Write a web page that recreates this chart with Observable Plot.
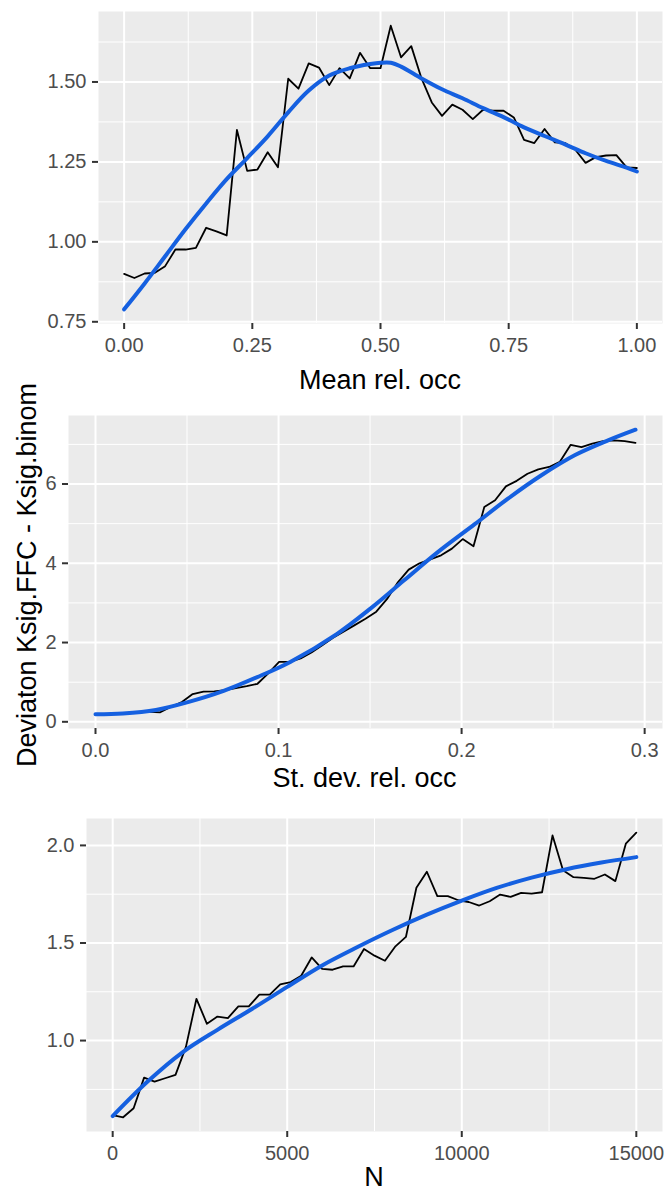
<!DOCTYPE html>
<html><head><meta charset="utf-8">
<script src="https://cdn.jsdelivr.net/npm/d3@7"></script>
<script src="https://cdn.jsdelivr.net/npm/@observablehq/plot@0.6"></script>
<style>
body{margin:0;background:#fff;}
#wrap{position:relative;width:667px;height:1193px;font-family:"Liberation Sans",Arial,sans-serif;overflow:hidden;}
.panel{position:absolute;left:0;}
.title{position:absolute;font-size:27px;color:#000;white-space:nowrap;line-height:1;}
</style></head><body><div id="wrap"></div>
<script>
// ---------- Panel 1: Mean rel. occ ----------
const meanX = [0,0.02,0.04,0.06,0.08,0.10,0.12,0.14,0.16,0.18,0.20,0.22,0.24,0.26,0.28,0.30,0.32,0.34,0.36,0.38,0.40,0.42,0.44,0.46,0.48,0.50,0.52,0.54,0.56,0.58,0.60,0.62,0.64,0.66,0.68,0.70,0.72,0.74,0.76,0.78,0.80,0.82,0.84,0.86,0.88,0.90,0.92,0.94,0.96,0.98,1.00];
const meanY = [0.900,0.887,0.901,0.903,0.924,0.976,0.976,0.981,1.044,1.033,1.020,1.350,1.222,1.226,1.280,1.233,1.510,1.479,1.558,1.545,1.490,1.543,1.511,1.591,1.543,1.543,1.676,1.577,1.612,1.511,1.436,1.394,1.429,1.413,1.384,1.413,1.410,1.410,1.389,1.319,1.309,1.353,1.311,1.309,1.288,1.247,1.265,1.270,1.271,1.233,1.231];
const meanSmoothX = [0,0.04,0.08,0.12,0.16,0.20,0.24,0.28,0.32,0.36,0.40,0.44,0.48,0.50,0.52,0.54,0.58,0.62,0.66,0.70,0.74,0.78,0.82,0.86,0.90,0.94,0.98,1.00];
const meanSmoothY = [0.789,0.870,0.955,1.040,1.120,1.196,1.262,1.330,1.405,1.473,1.520,1.543,1.556,1.560,1.560,1.548,1.511,1.477,1.449,1.418,1.390,1.358,1.331,1.305,1.277,1.253,1.232,1.220];
const meanXTicks = [0,0.25,0.5,0.75,1];
const meanXMinor = [0.125,0.375,0.625,0.875];
const meanYTicks = [0.75,1.00,1.25,1.50];
const meanYMinor = [0.875,1.125,1.375,1.625];

// ---------- Panel 2: St. dev. rel. occ ----------
const sdX = [0,0.0059,0.0118,0.0177,0.0236,0.0295,0.0354,0.0413,0.0472,0.0531,0.0590,0.0649,0.0708,0.0767,0.0826,0.0885,0.0944,0.1003,0.1062,0.1121,0.1180,0.1239,0.1298,0.1357,0.1416,0.1475,0.1534,0.1593,0.1652,0.1711,0.1770,0.1829,0.1888,0.1947,0.2006,0.2065,0.2124,0.2183,0.2242,0.2301,0.2360,0.2419,0.2478,0.2537,0.2596,0.2655,0.2714,0.2773,0.2832,0.2891,0.2950];
const sdY = [0.19,0.19,0.20,0.22,0.25,0.25,0.24,0.38,0.50,0.70,0.76,0.77,0.80,0.85,0.90,0.96,1.22,1.51,1.51,1.60,1.75,1.93,2.12,2.28,2.44,2.60,2.78,3.10,3.52,3.84,4.00,4.10,4.20,4.37,4.61,4.43,5.42,5.59,5.94,6.08,6.26,6.37,6.43,6.56,6.99,6.93,7.02,7.08,7.10,7.08,7.04];
const sdSmoothX = [0,0.015,0.033,0.05,0.07,0.088,0.1064,0.132,0.150,0.1686,0.187,0.207,0.2253,0.2436,0.262,0.280,0.295];
const sdSmoothY = [0.19,0.21,0.30,0.49,0.78,1.12,1.51,2.22,2.85,3.57,4.28,4.98,5.63,6.22,6.73,7.10,7.37];
const sdXTicks = [0,0.1,0.2,0.3];
const sdXMinor = [0.05,0.15,0.25];
const sdYTicks = [0,2,4,6];
const sdYMinor = [1,3,5,7];

// ---------- Panel 3: N ----------
const nX = [0,300,600,900,1200,1500,1800,2100,2400,2700,3000,3300,3600,3900,4200,4500,4800,5100,5400,5700,6000,6300,6600,6900,7200,7500,7800,8100,8400,8700,9000,9300,9600,9900,10200,10500,10800,11100,11400,11700,12000,12300,12600,12900,13200,13500,13800,14100,14400,14700,15000];
const nY = [0.618,0.607,0.653,0.810,0.790,0.807,0.824,0.969,1.214,1.086,1.123,1.115,1.175,1.175,1.235,1.235,1.288,1.300,1.332,1.426,1.367,1.363,1.380,1.380,1.469,1.435,1.409,1.483,1.531,1.783,1.865,1.740,1.740,1.719,1.710,1.692,1.714,1.748,1.736,1.757,1.753,1.760,2.051,1.873,1.837,1.834,1.829,1.851,1.817,2.009,2.065];
const nSmoothX = [0,1000,2000,3000,4000,5000,6000,7000,8000,9000,10000,11000,12000,13000,14000,15000];
const nSmoothY = [0.613,0.790,0.940,1.055,1.163,1.275,1.385,1.478,1.565,1.645,1.717,1.782,1.835,1.878,1.912,1.940];
const nXTicks = [0,5000,10000,15000];
const nXMinor = [2500,7500,12500];
const nYTicks = [1.0,1.5,2.0];
const nYMinor = [0.75,1.25,1.75];

// ---------- titles ----------
const titleX1 = "Mean rel. occ";
const titleX2 = "St. dev. rel. occ";
const titleX3 = "N";
const titleY = "Deviaton Ksig.FFC - Ksig.binom";

const FONT = '"Liberation Sans", Arial, sans-serif';
const BLUE = "#1560e0";
const wrap = document.getElementById("wrap");

function expand(vals){
  const [a,b] = d3.extent(vals);
  const pad = (b - a) * 0.05;
  return [a - pad, b + pad];
}

function panel(cfg){
  const black = cfg.x.map((x,i)=>({x, y: cfg.y[i]}));
  const smooth = cfg.sx.map((x,i)=>({x, y: cfg.sy[i]}));
  const xDomain = expand(cfg.x.concat(cfg.sx));
  const yDomain = expand(cfg.y.concat(cfg.sy));
  const p = Plot.plot({
    width: 667,
    height: cfg.height,
    marginLeft: cfg.marginLeft,
    marginRight: 5,
    marginTop: cfg.marginTop,
    marginBottom: cfg.marginBottom,
    style: {fontFamily: FONT, background: "transparent", overflow: "visible"},
    x: {domain: xDomain, axis: null},
    y: {domain: yDomain, axis: null},
    marks: [
      Plot.frame({fill: "#EBEBEB", stroke: "none"}),
      Plot.gridX(cfg.xMinor, {stroke: "white", strokeOpacity: 1, strokeWidth: 1}),
      Plot.gridY(cfg.yMinor, {stroke: "white", strokeOpacity: 1, strokeWidth: 1}),
      Plot.gridX(cfg.xTicks, {stroke: "white", strokeOpacity: 1, strokeWidth: 2}),
      Plot.gridY(cfg.yTicks, {stroke: "white", strokeOpacity: 1, strokeWidth: 2}),
      Plot.axisX(cfg.xTicks, {tickFormat: cfg.xFmt, tickSize: 6, tickPadding: 8, fontSize: 20, fill: "#4d4d4d", stroke: "#333", strokeWidth: 2, label: null}),
      Plot.axisY(cfg.yTicks, {tickFormat: cfg.yFmt, tickSize: 6, tickPadding: 6, fontSize: 20, fill: "#4d4d4d", stroke: "#333", strokeWidth: 2, label: null}),
      Plot.line(black, {x: "x", y: "y", stroke: "black", strokeWidth: 1.8}),
      Plot.line(smooth, {x: "x", y: "y", stroke: BLUE, strokeWidth: 4, curve: "catmull-rom"})
    ]
  });
  p.classList.add("panel");
  p.style.top = cfg.top + "px";
  p.style.position = "absolute";
  wrap.appendChild(p);
}

function title(text, cx, cy, rotate){
  const d = document.createElement("div");
  d.className = "title";
  d.textContent = text;
  d.style.left = cx + "px";
  d.style.top = cy + "px";
  d.style.transform = "translate(-50%,-50%)" + (rotate ? " rotate(-90deg)" : "");
  wrap.appendChild(d);
}

panel({x: meanX, y: meanY, sx: meanSmoothX, sy: meanSmoothY,
  xTicks: meanXTicks, xMinor: meanXMinor, yTicks: meanYTicks, yMinor: meanYMinor,
  xFmt: d3.format(".2f"), yFmt: d3.format(".2f"),
  top: 0, height: 365, marginTop: 11, marginBottom: 42, marginLeft: 98});
panel({x: sdX, y: sdY, sx: sdSmoothX, sy: sdSmoothY,
  xTicks: sdXTicks, xMinor: sdXMinor, yTicks: sdYTicks, yMinor: sdYMinor,
  xFmt: d3.format(".1f"), yFmt: d3.format("d"),
  top: 385, height: 383, marginTop: 30, marginBottom: 40, marginLeft: 68});
panel({x: nX, y: nY, sx: nSmoothX, sy: nSmoothY,
  xTicks: nXTicks, xMinor: nXMinor, yTicks: nYTicks, yMinor: nYMinor,
  xFmt: d3.format("d"), yFmt: d3.format(".1f"),
  top: 790, height: 381, marginTop: 28, marginBottom: 40, marginLeft: 86});

title(titleX1, 380, 380);
title(titleX2, 364.5, 778);
title(titleX3, 374, 1177);
title(titleY, 27, 575, true);
</script>
</body></html>
